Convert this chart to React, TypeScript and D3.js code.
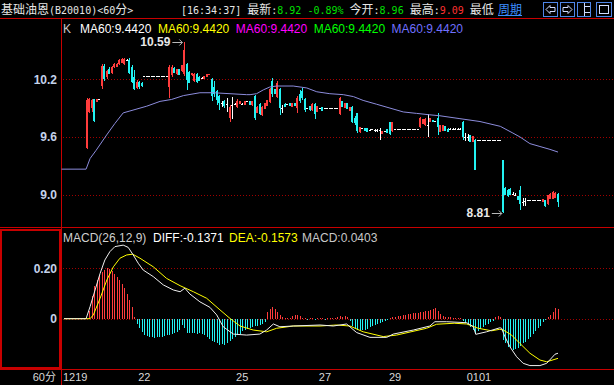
import React from 'react';
import * as d3 from 'd3';

const W = 614;
const H = 385;

// price bars (index 0-8 are empty slots at the left edge)
const opens = [
  null, null, null, null, null, null, null, null, null, 9.48,
  9.86, 9.9, 9.99, 9.96, 9.99, 10.13, 10.34, 10.22, 10.31, 10.27,
  10.33, 10.33, 10.36, 10.37, 10.36, 10.4, 10.4, 10.33, 10.22, 10.11,
  10.17, 10.16, 10.23, 10.23, 10.23, 10.23, 10.23, 10.23, 10.23, 10.23,
  10.23, 10.23, 10.12, 10.24, 10.32, 10.25, 10.31, 10.29, 10.26, 10.36,
  10.28, 10.24, 10.18, 10.26, 10.22, 10.21, 10.2, 10.22, 10.24, 10.2,
  10.12, 10.08, 10.03, 9.95, 9.97, 9.94, 9.8, 9.93, 9.94, 9.91,
  9.94, 9.94, 9.93, 9.97, 9.97, 9.93, 10.03, 9.85, 9.94, 9.83,
  9.89, 9.92, 9.96, 10.18, 10.1, 10.02, 10.1, 9.9, 9.94, 9.94,
  9.95, 9.91, 9.95, 9.9, 10.05, 10.08, 9.99, 9.9, 9.92, 9.88,
  9.94, 9.86, 9.9, 9.91, 9.9, 9.9, 9.9, 9.9, 9.9, 9.9,
  9.84, 9.97, 9.9, 9.95, 9.87, 9.91, 9.8, 9.85, 9.65, 9.69,
  9.69, 9.69, 9.67, 9.68, 9.67, 9.67, 9.67, 9.63, 9.66, 9.68,
  9.75, 9.66, 9.68, 9.68, 9.68, 9.68, 9.68, 9.68, 9.68, 9.68,
  9.68, 9.68, 9.7, 9.73, 9.72, 9.72, 9.76, 9.78, 9.77, 9.8,
  9.65, 9.66, 9.71, 9.68, 9.68, 9.68, 9.68, 9.68, 9.68, 9.76,
  9.6, 9.6, 9.62, 9.55, 9.57, 9.57, 9.57, 9.57, 9.57, 9.57,
  9.57, 9.57, 9.57, 9.57, 9.57, 9.36, 9.07, 9.05, 9.06, 9.01,
  9.0, 8.98, 9.05, 8.92, 8.93, 8.94, 8.94, 8.94, 8.94, 8.94,
  8.94, 8.92, 8.94, 8.9, 8.95, 8.95, 8.96, 9.01,
];
const highs = [
  null, null, null, null, null, null, null, null, null, 10.0,
  10.0, 9.99, 9.99, 9.99, 9.99, 10.36, 10.36, 10.3, 10.33, 10.34,
  10.37, 10.37, 10.41, 10.42, 10.42, 10.41, 10.42, 10.35, 10.3, 10.19,
  10.18, 10.17, 10.23, 10.23, 10.23, 10.23, 10.23, 10.23, 10.23, 10.23,
  10.23, 10.23, 10.35, 10.35, 10.33, 10.31, 10.31, 10.35, 10.59, 10.37,
  10.29, 10.27, 10.27, 10.27, 10.23, 10.22, 10.23, 10.25, 10.25, 10.21,
  10.18, 10.09, 10.04, 9.97, 9.98, 10.0, 9.93, 10.02, 9.95, 9.99,
  9.97, 9.95, 9.97, 9.97, 9.97, 9.97, 10.04, 9.92, 9.95, 9.92,
  9.95, 9.98, 10.11, 10.21, 10.1, 10.18, 10.11, 9.93, 9.95, 9.94,
  9.95, 9.95, 9.95, 10.03, 10.09, 10.11, 10.0, 9.9, 9.92, 9.95,
  9.95, 9.92, 9.9, 9.91, 9.9, 9.9, 9.9, 9.9, 9.9, 9.9,
  10.02, 9.97, 9.95, 9.95, 9.91, 9.92, 9.82, 9.85, 9.7, 9.69,
  9.69, 9.69, 9.68, 9.68, 9.68, 9.68, 9.69, 9.66, 9.66, 9.68,
  9.76, 9.76, 9.68, 9.68, 9.68, 9.68, 9.68, 9.68, 9.68, 9.68,
  9.68, 9.68, 9.81, 9.79, 9.8, 9.84, 9.8, 9.78, 9.77, 9.85,
  9.72, 9.72, 9.71, 9.69, 9.69, 9.69, 9.69, 9.69, 9.69, 9.77,
  9.64, 9.63, 9.62, 9.61, 9.58, 9.57, 9.57, 9.57, 9.57, 9.57,
  9.57, 9.57, 9.57, 9.57, 9.57, 9.36, 9.08, 9.06, 9.07, 9.03,
  9.02, 8.98, 9.09, 8.96, 8.96, 8.94, 8.94, 8.94, 8.94, 8.94,
  8.94, 8.95, 8.94, 9.0, 9.02, 9.04, 9.03, 9.02,
];
const lows = [
  null, null, null, null, null, null, null, null, null, 9.47,
  9.85, 9.86, 9.75, 9.96, 9.99, 10.1, 10.18, 10.2, 10.25, 10.26,
  10.32, 10.33, 10.35, 10.37, 10.35, 10.39, 10.26, 10.16, 10.09, 10.1,
  10.1, 10.12, 10.23, 10.23, 10.23, 10.23, 10.23, 10.23, 10.23, 10.23,
  10.23, 10.23, 10.01, 10.22, 10.27, 10.24, 10.24, 10.28, 10.23, 10.09,
  10.16, 10.23, 10.17, 10.16, 10.18, 10.2, 10.2, 10.22, 10.24, 9.97,
  10.02, 9.93, 9.88, 9.91, 9.9, 9.86, 9.75, 9.79, 9.94, 9.9,
  9.94, 9.93, 9.93, 9.97, 9.93, 9.92, 9.78, 9.85, 9.83, 9.82,
  9.89, 9.92, 9.95, 10.02, 10.05, 10.0, 9.83, 9.85, 9.91, 9.94,
  9.92, 9.91, 9.92, 9.85, 9.95, 9.98, 9.86, 9.9, 9.87, 9.87,
  9.79, 9.86, 9.9, 9.87, 9.9, 9.9, 9.9, 9.9, 9.9, 9.9,
  9.83, 9.91, 9.9, 9.89, 9.87, 9.74, 9.72, 9.64, 9.64, 9.69,
  9.66, 9.65, 9.66, 9.68, 9.65, 9.65, 9.57, 9.63, 9.66, 9.64,
  9.62, 9.65, 9.68, 9.68, 9.68, 9.68, 9.68, 9.68, 9.68, 9.68,
  9.68, 9.68, 9.69, 9.73, 9.71, 9.6, 9.75, 9.76, 9.77, 9.62,
  9.65, 9.66, 9.66, 9.65, 9.67, 9.67, 9.67, 9.67, 9.67, 9.57,
  9.56, 9.56, 9.55, 9.55, 9.25, 9.57, 9.57, 9.57, 9.57, 9.57,
  9.57, 9.57, 9.57, 9.57, 9.57, 8.81, 8.99, 8.97, 9.0, 9.0,
  8.98, 8.94, 8.84, 8.88, 8.88, 8.94, 8.94, 8.94, 8.94, 8.94,
  8.94, 8.92, 8.87, 8.89, 8.95, 8.95, 8.96, 8.87,
];
const closes = [
  null, null, null, null, null, null, null, null, null, 9.98,
  9.99, 9.98, 9.77, 9.99, 9.99, 10.34, 10.2, 10.29, 10.26, 10.33,
  10.36, 10.36, 10.4, 10.41, 10.41, 10.4, 10.27, 10.17, 10.1, 10.17,
  10.12, 10.13, 10.23, 10.23, 10.23, 10.23, 10.23, 10.23, 10.23, 10.23,
  10.23, 10.23, 10.33, 10.33, 10.27, 10.31, 10.24, 10.35, 10.5, 10.19,
  10.16, 10.27, 10.26, 10.17, 10.18, 10.21, 10.23, 10.25, 10.25, 10.03,
  10.05, 9.98, 9.95, 9.95, 9.92, 9.94, 9.91, 9.93, 9.94, 9.97,
  9.97, 9.94, 9.97, 9.97, 9.93, 9.97, 9.8, 9.91, 9.84, 9.91,
  9.95, 9.98, 10.1, 10.05, 10.05, 10.16, 9.9, 9.9, 9.91, 9.94,
  9.92, 9.95, 9.92, 10.01, 9.97, 10.0, 9.88, 9.9, 9.88, 9.94,
  9.84, 9.92, 9.9, 9.87, 9.9, 9.9, 9.9, 9.9, 9.9, 9.9,
  10.0, 9.91, 9.95, 9.89, 9.91, 9.76, 9.74, 9.66, 9.7, 9.69,
  9.66, 9.65, 9.67, 9.68, 9.67, 9.67, 9.67, 9.66, 9.66, 9.64,
  9.63, 9.75, 9.68, 9.68, 9.68, 9.68, 9.68, 9.68, 9.68, 9.68,
  9.68, 9.68, 9.8, 9.79, 9.79, 9.72, 9.8, 9.76, 9.77, 9.7,
  9.72, 9.72, 9.66, 9.65, 9.68, 9.68, 9.68, 9.68, 9.68, 9.6,
  9.6, 9.6, 9.55, 9.61, 9.25, 9.57, 9.57, 9.57, 9.57, 9.57,
  9.57, 9.57, 9.57, 9.57, 9.57, 8.82, 9.0, 8.98, 9.0, 9.01,
  9.0, 8.94, 8.9, 8.92, 8.93, 8.94, 8.94, 8.94, 8.94, 8.94,
  8.94, 8.95, 8.88, 8.99, 9.01, 9.03, 9.02, 8.92,
];

// MACD histogram, one value per bar
const macdHist = [
  0, 0, 0, 0, 0, 0, 0, 0, 0, 0,
  0.03, 0.09, 0.13, 0.155, 0.17, 0.185, 0.195, 0.2, 0.198, 0.19,
  0.178, 0.165, 0.152, 0.138, 0.122, 0.1, 0.075, 0.045, 0.005, -0.02,
  -0.035, -0.052, -0.065, -0.069, -0.071, -0.074, -0.075, -0.074, -0.072, -0.071,
  -0.069, -0.066, -0.064, -0.062, -0.058, -0.052, -0.045, -0.025, -0.038, -0.055,
  -0.058, -0.057, -0.058, -0.06, -0.057, -0.06, -0.066, -0.072, -0.08, -0.088,
  -0.094, -0.098, -0.104, -0.1, -0.104, -0.095, -0.09, -0.08, -0.072, -0.065,
  -0.06, -0.05, -0.045, -0.04, -0.037, -0.033, -0.03, -0.027, -0.024, -0.02,
  -0.015, 0.025, 0.037, 0.048, 0.04, 0.026, 0.015, 0.005, 0.003, 0.003,
  0.004, 0.012, 0.015, 0.015, 0.012, 0.003, 0.002, -0.002, 0.002, 0.003,
  -0.002, 0.002, 0.003, 0.002, -0.002, 0.002, 0.003, 0.002, 0.002, 0.006,
  0.01, 0.008, 0.01, 0.006, -0.01, -0.03, -0.038, -0.043, -0.045, -0.045,
  -0.043, -0.04, -0.034, -0.03, -0.025, -0.02, -0.017, -0.013, -0.01, -0.006,
  0.002, 0.006, 0.008, 0.01, 0.012, 0.014, 0.016, 0.018, 0.02, 0.021,
  0.022, 0.023, 0.025, 0.027, 0.029, 0.032, 0.035, 0.038, 0.041, 0.03,
  0.02, 0.012, 0.008, 0.006, 0.005, 0.004, 0.003, 0.002, 0.001, -0.008,
  -0.018, -0.025, -0.032, -0.045, -0.062, -0.05, -0.04, -0.032, -0.025, -0.02,
  -0.015, -0.01, 0.005, 0.011, 0.005, -0.085, -0.098, -0.111, -0.118, -0.124,
  -0.12, -0.115, -0.108, -0.098, -0.091, -0.08, -0.071, -0.06, -0.05, -0.038,
  -0.028, -0.015, -0.006, 0.008, 0.015, 0.028, 0.041, 0.0403,
];

// line points: [bar index, value]
const ma60Pts: [number, number][] = [
  [-1, 9.264], [8.8, 9.264], [10.4, 9.375], [12.8, 9.46], [17, 9.62], [20.3, 9.74],
  [23.6, 9.85], [26.3, 9.87], [33, 9.92], [38.3, 9.97], [42.9, 9.99], [47.6, 10.03],
  [54.2, 10.06], [59.5, 10.06], [66.2, 10.05], [72.8, 10.04], [74.2, 10.04], [76.8, 10.05],
  [79.5, 10.09], [82.1, 10.12], [84.8, 10.13], [91.4, 10.13], [96.8, 10.11], [100.8, 10.07],
  [106, 10.05], [111.4, 10.04], [115.4, 10.02], [119.3, 9.98], [124.7, 9.94], [130, 9.9],
  [135.3, 9.86], [140.6, 9.845], [145.9, 9.83], [149.9, 9.82], [157.9, 9.79], [165.9, 9.76],
  [174, 9.71], [179, 9.64], [181.8, 9.6], [185.8, 9.53], [189.8, 9.5], [193.8, 9.47], [197, 9.442],
];
const diffPts: [number, number][] = [
  [0, 0], [8.8, 0], [10.4, 0.048], [12.4, 0.114], [14.4, 0.18], [16.3, 0.233], [18.3, 0.266],
  [20.3, 0.286], [23.6, 0.292], [25.6, 0.283], [27.6, 0.253], [29.6, 0.22], [31.6, 0.193],
  [35.6, 0.167], [39.6, 0.134], [43.6, 0.114], [46.3, 0.107], [48.2, 0.121], [50.2, 0.098],
  [54.2, 0.067], [58.2, 0.045], [60.9, 0.015], [63.5, -0.032], [67.5, -0.061], [72.8, -0.065],
  [78.1, -0.061], [80.8, -0.045], [83.5, -0.021], [86.1, -0.032], [91.4, -0.029], [102.1, -0.025],
  [107.4, -0.029], [112.7, -0.021], [116.7, -0.055], [122, -0.074], [128.7, -0.074], [131.3, -0.061],
  [139.3, -0.045], [145.9, -0.029], [147.9, -0.012], [152.6, -0.012], [160.6, -0.016], [163.3, -0.032],
  [164.2, -0.062], [168.5, -0.052], [173.8, -0.036], [174.5, -0.038], [175.8, -0.071], [177.8, -0.111],
  [180.5, -0.151], [183.1, -0.177], [185.8, -0.186], [189.8, -0.186], [192.5, -0.177], [195.8, -0.141],
  [197, -0.1371],
];
const deaPts: [number, number][] = [
  [0, 0], [10.4, 0], [11.7, 0.015], [14.4, 0.081], [17.1, 0.154], [19.7, 0.206], [22.3, 0.24],
  [25, 0.253], [27.4, 0.256], [30.3, 0.24], [35.6, 0.206], [40.9, 0.16], [46.3, 0.131],
  [51.6, 0.107], [56.9, 0.081], [62.2, 0.035], [66.2, 0.001], [70.2, -0.029], [75.5, -0.045],
  [80.8, -0.052], [84.8, -0.038], [91.4, -0.029], [102.1, -0.029], [108.7, -0.025], [114, -0.029],
  [119.3, -0.052], [127.3, -0.071], [132.6, -0.065], [144.6, -0.038], [148.6, -0.022], [155.6, -0.018],
  [160.6, -0.021], [165.2, -0.038], [170.5, -0.048], [173.8, -0.042], [175.2, -0.045], [178.5, -0.065],
  [181.8, -0.098], [185.8, -0.137], [189.8, -0.164], [192.5, -0.171], [197, -0.1573],
];

const priceTicks = [9.0, 9.6, 10.2];
const macdTicks = [0, 0.2];
const dateTicks: [number, string][] = [[0, '1219'], [30, '22'], [69, '25'], [102, '27'], [130, '29'], [161, '0101']];
const maLabel = 'MA60:9.4420';
const maColors = ['#ffffff', '#ffff00', '#ff00ff', '#00ff00', '#7070ff'];
const maxBar = 48;
const minBar = 175;

const SANS = "'Liberation Sans', Arial, sans-serif";
const MONO = "'DejaVu Sans Mono', monospace";
const CJK = "'Noto Sans CJK SC', sans-serif";
const FRAME = '#c80000';
const GRID = '#a00000';
const UP = '#ff3c3c';
const DOWN = '#22f2f2';
const AXIS_TXT = '#c4d2ea';

const N = closes.length;
const x = d3.scaleLinear().domain([0, N - 1]).range([64, 558]);
const yP = d3.scaleLinear().domain([9.0, 10.2]).range([194.5, 79.3]);
const yM = d3.scaleLinear().domain([0, 0.2]).range([318.7, 268.3]);

const maLine = d3.line<[number, number]>().x(d => x(d[0])).y(d => yP(d[1]));
const macdLine = d3.line<[number, number]>().x(d => x(d[0])).y(d => yM(d[1]));

// header pieces: [text, font, color]
const headLeft: [string, string, string][] = [
  ['基础油恩', CJK, '#e6e6e6'], ['(B20010)<60', MONO, '#e6e6e6'], ['分', CJK, '#e6e6e6'], ['>', MONO, '#e6e6e6'],
];
const headRight: [string, string, string][] = [
  ['[16:34:37] ', MONO, '#e6e6e6'], ['最新', CJK, '#e6e6e6'], [':', MONO, '#e6e6e6'],
  ['8.92 -0.89% ', MONO, '#00e000'], ['今开', CJK, '#e6e6e6'], [':', MONO, '#e6e6e6'],
  ['8.96 ', MONO, '#00e000'], ['最高', CJK, '#e6e6e6'], [':', MONO, '#e6e6e6'],
  ['9.09 ', MONO, '#ff3030'], ['最低', CJK, '#e6e6e6'],
];

function Candles() {
  const out: React.ReactNode[] = [];
  for (let i = 0; i < N; i++) {
    const o = opens[i], h = highs[i], l = lows[i], c = closes[i];
    if (o == null || h == null || l == null || c == null) continue;
    const cx = Math.round(x(i));
    const color = c > o ? UP : c < o ? DOWN : '#ffffff';
    const yh = Math.round(yP(h));
    const yl = Math.round(yP(l));
    const yt = Math.round(yP(Math.max(o, c)));
    const yb = Math.round(yP(Math.min(o, c)));
    out.push(
      <g key={i} fill={color}>
        <rect x={cx} y={yh} width={1} height={Math.max(1, yl - yh)} />
        <rect x={cx - 1} y={yt} width={2} height={Math.max(1, yb - yt)} />
      </g>,
    );
  }
  return <g shapeRendering="crispEdges">{out}</g>;
}

function Histogram() {
  const y0 = Math.round(yM(0));
  return (
    <g shapeRendering="crispEdges">
      {macdHist.map((v, i) => {
        if (Math.abs(v) < 0.0005) return null;
        const cx = Math.round(x(i));
        const yv = Math.round(yM(v));
        return (
          <rect
            key={i}
            x={cx}
            y={Math.min(y0, yv)}
            width={1}
            height={Math.max(1, Math.abs(yv - y0))}
            fill={v > 0 ? UP : DOWN}
          />
        );
      })}
    </g>
  );
}

export default function App() {
  const hx = x(maxBar);
  const hy = yP(highs[maxBar] as number);
  const lx = x(minBar);
  const ly = yP(lows[minBar] as number);

  return (
    <div style={{ position: 'absolute', left: 0, top: 0 }}>
      <svg width={W} height={H} style={{ display: 'block', background: '#000' }}>
        <rect width={W} height={H} fill="#000" />

        {/* header */}
        <text x={1} y={14} fontSize={12}>
          {headLeft.map(([t, f, c], k) => (
            <tspan key={k} fontFamily={f} fontSize={f === MONO ? 10 : 12} fill={c}>{t}</tspan>
          ))}
        </text>
        <text x={181} y={14} fontSize={12}>
          {headRight.map(([t, f, c], k) => (
            <tspan key={k} fontFamily={f} fontSize={f === MONO ? 10 : 12} fill={c} style={{ whiteSpace: 'pre' }}>{t}</tspan>
          ))}
        </text>
        <rect x={496} y={1} width={28} height={16} fill="#000" />
        <text x={498} y={14} fontFamily={CJK} fontSize={12} fill="#3d8eff">周期</text>
        <line x1={498} x2={522} y1={15.5} y2={15.5} stroke="#3d8eff" />

        {/* toolbar icons */}
        <g fill="none" strokeWidth={1}>
          <rect x={543.5} y={2.5} width={14} height={14} stroke="#4f86e8" />
          <polygon points="546,9.5 550,5.5 550,7.5 555,7.5 555,11.5 550,11.5 550,13.5" stroke="#d0dcff" />
          <rect x={560.5} y={2.5} width={14} height={14} stroke="#4f86e8" />
          <polygon points="572,9.5 568,5.5 568,7.5 563,7.5 563,11.5 568,11.5 568,13.5" stroke="#d0dcff" />
          <rect x={577.5} y={2.5} width={13} height={14} stroke="#4f86e8" />
          <line x1={584.5} x2={584.5} y1={3} y2={16} stroke="#d0dcff" />
          <line x1={585} x2={590} y1={6.5} y2={6.5} stroke="#d0dcff" />
          <line x1={585} x2={590} y1={12.5} y2={12.5} stroke="#d0dcff" />
          <rect x={596.5} y={2.5} width={15} height={14} stroke="#4f86e8" />
          <rect x={599.5} y={5.5} width={9} height={8} stroke="#d0dcff" />
        </g>

        {/* frame */}
        <g stroke={FRAME} shapeRendering="crispEdges">
          <line x1={0} x2={W} y1={18.5} y2={18.5} />
          <line x1={61.5} x2={61.5} y1={18} y2={H} />
          <line x1={0} x2={W} y1={227.5} y2={227.5} />
          <line x1={0} x2={W} y1={369.5} y2={369.5} />
          <rect x={1} y={230} width={59} height={138} fill="none" strokeWidth={2} />
        </g>

        {/* grid */}
        <g stroke={GRID} strokeDasharray="1 2" shapeRendering="crispEdges">
          {priceTicks.map(v => (
            <line key={v} x1={63} x2={W} y1={Math.round(yP(v)) + 0.5} y2={Math.round(yP(v)) + 0.5} />
          ))}
          {macdTicks.map(v => (
            <line key={v} x1={63} x2={W} y1={Math.round(yM(v)) + 0.5} y2={Math.round(yM(v)) + 0.5} />
          ))}
        </g>

        {/* axis labels */}
        <g fontFamily={SANS} fontSize={12} fontWeight="bold" fill={AXIS_TXT} textAnchor="end">
          {priceTicks.map(v => (
            <text key={v} x={57} y={yP(v) + 4.5}>{v.toFixed(1)}</text>
          ))}
          {macdTicks.map(v => (
            <text key={v} x={57} y={yM(v) + 4.5}>{v === 0 ? '0' : v.toFixed(2)}</text>
          ))}
        </g>
        <g fontFamily={SANS} fontSize={11} fill="#d8d8d8">
          <text x={56} y={381} textAnchor="end">
            60<tspan fontFamily={CJK}>分</tspan>
          </text>
          {dateTicks.map(([i, t]) => (
            <text key={t} x={x(i) - 1} y={381}>{t}</text>
          ))}
        </g>

        {/* price legend */}
        <g fontFamily={SANS} fontSize={12}>
          <text x={63} y={33} fill="#c8c8c8">K</text>
          {maColors.map((c, k) => (
            <text key={c} x={80 + k * 77.9} y={33} fill={c}>{maLabel}</text>
          ))}
        </g>

        <Candles />
        <path d={maLine(ma60Pts) ?? ''} fill="none" stroke="#8c8cdc" strokeWidth={1} />

        {/* high / low markers */}
        <g fontFamily={SANS} fontSize={12} fontWeight="bold" fill="#e8e8e8">
          <text x={hx - 14} y={hy + 4.5} textAnchor="end">{(highs[maxBar] as number).toFixed(2)}</text>
          <text x={lx - 13} y={ly + 4.5} textAnchor="end">{(lows[minBar] as number).toFixed(2)}</text>
        </g>
        <g stroke="#b8b8b8" fill="none">
          <line x1={hx - 12} x2={hx - 2} y1={Math.round(hy) + 0.5} y2={Math.round(hy) + 0.5} />
          <path d={`M${hx - 5},${Math.round(hy) - 2.5} L${hx - 2},${Math.round(hy) + 0.5} L${hx - 5},${Math.round(hy) + 3.5}`} />
          <line x1={lx - 11} x2={lx - 1} y1={Math.round(ly) + 0.5} y2={Math.round(ly) + 0.5} />
          <path d={`M${lx - 4},${Math.round(ly) - 2.5} L${lx - 1},${Math.round(ly) + 0.5} L${lx - 4},${Math.round(ly) + 3.5}`} />
        </g>

        {/* MACD legend */}
        <g fontFamily={SANS} fontSize={12}>
          <text x={63} y={242} fill="#cfcfcf">MACD(26,12,9)</text>
          <text x={153} y={242} fill="#ffffff">DIFF:-0.1371</text>
          <text x={229} y={242} fill="#ffff00">DEA:-0.1573</text>
          <text x={302} y={242} fill="#c8c8c8">MACD:0.0403</text>
        </g>

        <Histogram />
        <path d={macdLine(deaPts) ?? ''} fill="none" stroke="#ffff00" strokeWidth={1} />
        <path d={macdLine(diffPts) ?? ''} fill="none" stroke="#f0f0f0" strokeWidth={1} />
      </svg>
    </div>
  );
}
